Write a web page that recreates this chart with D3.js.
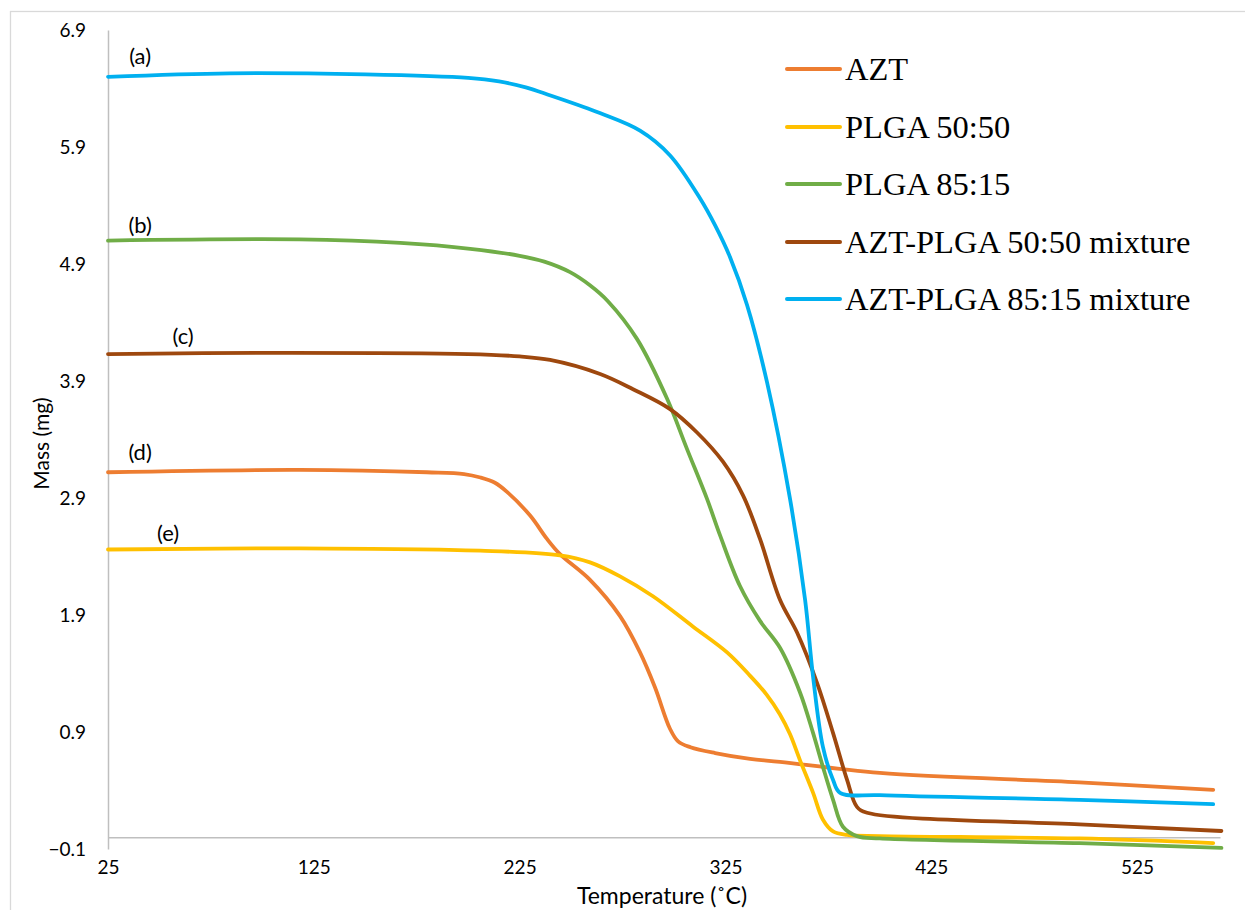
<!DOCTYPE html>
<html>
<head>
<meta charset="utf-8">
<script src="https://cdn.jsdelivr.net/npm/d3@7"></script>
<style>
  html, body { margin: 0; padding: 0; background: #fff; }
  svg { display: block; }
</style>
</head>
<body>
<svg id="chart" width="1245" height="910"></svg>
<script>
// Thermogravimetric curves: mass (mg) against temperature (°C)
const aztTemp = [25, 118, 180, 198, 206, 213, 219, 230.1, 238.3, 244.6, 259.2, 273.8, 283.5, 290.8, 298, 302, 308, 320, 337, 351.5, 400, 497, 562];
const aztMass = [3.12, 3.14, 3.12, 3.105, 3.075, 3.03, 2.95, 2.75, 2.55, 2.42, 2.20, 1.89, 1.58, 1.28, 0.93, 0.82, 0.77, 0.72, 0.67, 0.645, 0.55, 0.47, 0.405];

const plga5050Temp = [25, 118, 205.8, 244.6, 259.2, 273.8, 289.8, 309.3, 325.8, 337, 345, 351.5, 356.4, 361.2, 367.6, 372.4, 377.3, 384.1, 400, 497, 562];
const plga5050Mass = [2.46, 2.47, 2.45, 2.41, 2.35, 2.23, 2.06, 1.80, 1.58, 1.38, 1.22, 1.05, 0.88, 0.66, 0.38, 0.15, 0.05, 0.02, 0.01, -0.01, -0.05];

const plga8515Temp = [25, 118, 167, 201, 225, 237, 249.5, 259, 268, 282, 296.6, 306.3, 316.1, 322.4, 332, 341.8, 351.5, 361.2, 367.6, 372.4, 377.3, 382.1, 388.9, 400, 497, 566];
const plga8515Mass = [5.10, 5.11, 5.08, 5.03, 4.97, 4.92, 4.83, 4.72, 4.58, 4.26, 3.75, 3.32, 2.89, 2.58, 2.15, 1.85, 1.62, 1.24, 0.89, 0.60, 0.32, 0.09, 0.01, -0.01, -0.05, -0.09];

const mix5050Temp = [25, 100, 200, 225, 239.8, 264.1, 280.1, 298.1, 311.2, 323.8, 333.6, 341.8, 351.5, 359.8, 369.5, 377.3, 384.1, 388.9, 393.8, 497, 566];
const mix5050Mass = [4.13, 4.14, 4.13, 4.11, 4.08, 3.96, 3.83, 3.66, 3.46, 3.21, 2.92, 2.55, 2.03, 1.75, 1.32, 0.89, 0.49, 0.26, 0.21, 0.11, 0.054];

const mix8515Temp = [25, 84, 150, 200, 215, 228, 240, 264, 283.5, 298, 312.7, 320, 327.2, 335.5, 345.2, 356.4, 363.7, 367.6, 372.4, 377.3, 380.7, 400, 497, 562];
const mix8515Mass = [6.50, 6.53, 6.52, 6.49, 6.46, 6.41, 6.34, 6.19, 6.04, 5.83, 5.46, 5.23, 4.96, 4.55, 3.89, 2.89, 2.03, 1.37, 0.77, 0.49, 0.38, 0.36, 0.32, 0.283];

const seriesNames = ["AZT", "PLGA 50:50", "PLGA 85:15", "AZT-PLGA 50:50 mixture", "AZT-PLGA 85:15 mixture"];
const seriesColors = ["#ED7D31", "#FFC000", "#70AD47", "#9E480E", "#00B0F0"];
const curveTags = ["(d)", "(e)", "(b)", "(c)", "(a)"];

const xTicks = [25, 125, 225, 325, 425, 525];
const yTicks = [-0.1, 0.9, 1.9, 2.9, 3.9, 4.9, 5.9, 6.9];

const series = [
  { temp: aztTemp, mass: aztMass },
  { temp: plga5050Temp, mass: plga5050Mass },
  { temp: plga8515Temp, mass: plga8515Mass },
  { temp: mix5050Temp, mass: mix5050Mass },
  { temp: mix8515Temp, mass: mix8515Mass }
].map((s, i) => ({
  name: seriesNames[i],
  color: seriesColors[i],
  tag: curveTags[i],
  points: s.temp.map((t, j) => ({ t, m: s.mass[j] }))
}));

const svg = d3.select("#chart");
const W = 1245, H = 910;

// outer chart frame
svg.append("rect")
  .attr("x", 10.5).attr("y", 11.5)
  .attr("width", W).attr("height", H)
  .attr("fill", "#fff").attr("stroke", "#D9D9D9").attr("stroke-width", 1.3);

const plot = { left: 108, right: 1220, top: 30, bottom: 849 };

const x = d3.scaleLinear().domain([25, 565.3]).range([plot.left, plot.right]);
const y = d3.scaleLinear().domain([-0.1, 6.9]).range([plot.bottom, plot.top]);

const tickFont = "Lato, 'Open Sans', sans-serif";

// y axis: line plus labels, no tick marks
const yAxis = d3.axisLeft(y).tickValues(yTicks).tickSize(0).tickPadding(22)
  .tickFormat(d3.format(".1f"));
const gy = svg.append("g").attr("transform", `translate(${plot.left},0)`).call(yAxis);
gy.select(".domain").attr("stroke", "#BFBFBF").attr("stroke-width", 1.5);
gy.selectAll("text").attr("font-family", tickFont).attr("font-size", 19).attr("fill", "#000");

// x axis sits at mass = 0
const xAxis = d3.axisBottom(x).tickValues(xTicks).tickSize(0).tickPadding(0)
  .tickFormat(d3.format("d"));
const gx = svg.append("g").attr("transform", `translate(0,${y(0)})`).call(xAxis);
gx.select(".domain").attr("stroke", "#BFBFBF").attr("stroke-width", 1.5);
gx.selectAll("text")
  .attr("y", 0).attr("dy", null)
  .attr("transform", `translate(0,${866 - y(0)})`)
  .attr("dominant-baseline", "central")
  .attr("font-family", tickFont).attr("font-size", 19).attr("fill", "#000");

// axis titles
svg.append("text")
  .attr("transform", `translate(40,${(plot.top + plot.bottom) / 2 + 4}) rotate(-90)`)
  .attr("text-anchor", "middle").attr("dominant-baseline", "central")
  .attr("font-family", tickFont).attr("font-size", 21).attr("fill", "#000")
  .text("Mass (mg)");

svg.append("text")
  .attr("x", (plot.left + plot.right) / 2 - 2).attr("y", 904)
  .attr("text-anchor", "middle")
  .attr("font-family", tickFont).attr("font-size", 23).attr("fill", "#000")
  .text("Temperature (˚C)");

// curves
const line = d3.line().x(d => x(d.t)).y(d => y(d.m)).curve(d3.curveCatmullRom.alpha(0.5));
svg.append("g").selectAll("path").data(series).join("path")
  .attr("d", d => line(d.points))
  .attr("fill", "none")
  .attr("stroke", d => d.color)
  .attr("stroke-width", 3.8)
  .attr("stroke-linecap", "round")
  .attr("stroke-linejoin", "round");

// curve tags placed just above each curve's starting plateau
const tagTemp = [40.6, 54.2, 40.6, 61.5, 40.6];
const tagLift = [21, 17, 16, 19, 21];
svg.append("g").selectAll("text").data(series).join("text")
  .attr("x", (d, i) => x(tagTemp[i]))
  .attr("y", (d, i) => y(d.points[0].m) - tagLift[i])
  .attr("text-anchor", "middle")
  .attr("dominant-baseline", "central")
  .attr("font-family", tickFont).attr("font-size", 22).attr("fill", "#000")
  .text(d => d.tag);

// legend
const legend = svg.append("g");
const legendRowY = [69, 127, 184, 242, 299];
const rows = legend.selectAll("g").data(series).join("g")
  .attr("transform", (d, i) => `translate(787,${legendRowY[i]})`);
rows.append("line")
  .attr("x1", 0).attr("x2", 53).attr("y1", 0).attr("y2", 0)
  .attr("stroke", d => d.color).attr("stroke-width", 4).attr("stroke-linecap", "round");
rows.append("text")
  .attr("x", 58).attr("y", 11)
  .attr("font-family", "'Liberation Serif', 'Times New Roman', serif")
  .attr("font-size", 32.5).attr("fill", "#000")
  .text(d => d.name);
</script>
</body>
</html>
